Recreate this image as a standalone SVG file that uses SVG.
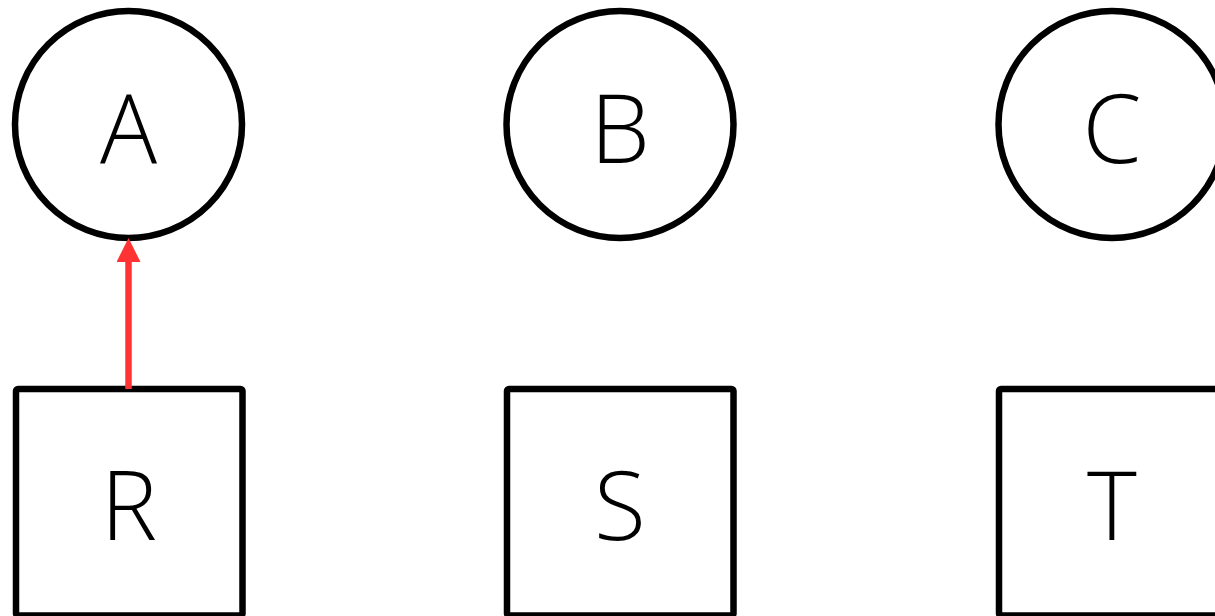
<svg xmlns="http://www.w3.org/2000/svg" width="1215" height="616" viewBox="0 0 1215 616">
<style>
.shape{fill:#fff;stroke:#000;stroke-width:6.5}
.lbl{font-family:"Open Sans","Liberation Sans",Arial,sans-serif;font-weight:300;font-size:95px;fill:#000;text-anchor:middle}
.edge{stroke:#ff3333;stroke-width:6.5;fill:none}
</style>
<defs>
<marker id="arrow" markerUnits="userSpaceOnUse" markerWidth="24" markerHeight="24" refX="0" refY="12" viewBox="0 0 24 24" orient="auto">
<path d="M0,0 L24,12 L0,24 Z" fill="#ff3333"/>
</marker>
</defs>
<rect width="1215" height="616" fill="#fff"/>
<g id="node-A"><circle class="shape" cx="128.5" cy="124.5" r="113.5"/><text class="lbl" x="128.5" y="163">A</text></g>
<g id="node-B"><circle class="shape" cx="620" cy="124.5" r="113.5"/><text class="lbl" x="620" y="163">B</text></g>
<g id="node-C"><circle class="shape" cx="1112" cy="124.5" r="113.5"/><text class="lbl" x="1112" y="163">C</text></g>
<g id="node-R"><rect class="shape" x="16" y="389" width="226.5" height="226.5" rx="2"/><text class="lbl" x="129" y="540">R</text></g>
<g id="node-S"><rect class="shape" x="507" y="389" width="226.5" height="226.5" rx="2"/><text class="lbl" x="620" y="540">S</text></g>
<g id="node-T"><rect class="shape" x="999" y="389" width="226.5" height="226.5" rx="2"/><text class="lbl" x="1112" y="540">T</text></g>
<g id="connectors">
<line class="edge" x1="128.5" y1="389" x2="128.5" y2="262" marker-end="url(#arrow)"/>
</g>
</svg>
